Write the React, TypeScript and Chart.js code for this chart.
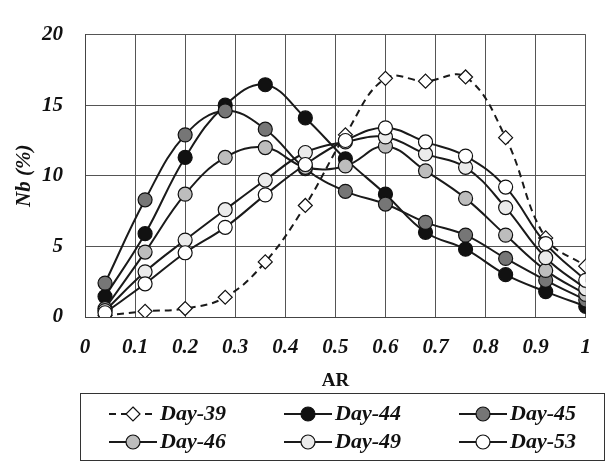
import React, { useEffect, useRef } from "react";
import { Chart, registerables } from "chart.js";

Chart.register(...registerables);

const arValues = [0.04, 0.12, 0.2, 0.28, 0.36, 0.44, 0.52, 0.6, 0.68, 0.76, 0.84, 0.92, 1.0];
const seriesNames = ["Day-39", "Day-44", "Day-45", "Day-46", "Day-49", "Day-53"];
const day39 = [0.1, 0.4, 0.6, 1.4, 3.9, 7.9, 12.9, 16.9, 16.7, 17.0, 12.7, 5.6, 3.6];
const day44 = [1.45, 5.9, 11.3, 15.0, 16.45, 14.1, 11.2, 8.7, 6.0, 4.8, 3.0, 1.8, 0.75];
const day45 = [2.4, 8.3, 12.9, 14.6, 13.3, 10.5, 8.9, 8.0, 6.7, 5.8, 4.15, 2.6, 1.2];
const day46 = [0.6, 4.6, 8.7, 11.3, 12.0, 10.6, 10.7, 12.1, 10.35, 8.4, 5.8, 3.3, 1.6];
const day49 = [0.45, 3.2, 5.45, 7.6, 9.7, 11.65, 12.4, 12.75, 11.55, 10.6, 7.75, 4.2, 2.0];
const day53 = [0.3, 2.35, 4.55, 6.35, 8.65, 10.8, 12.5, 13.4, 12.4, 11.4, 9.2, 5.2, 2.6];
const seriesValues = [day39, day44, day45, day46, day49, day53];
const fillColors = ["#ffffff", "#111111", "#767676", "#bdbdbd", "#ebebeb", "#ffffff"];
const xTickValues = [0, 0.1, 0.2, 0.3, 0.4, 0.5, 0.6, 0.7, 0.8, 0.9, 1];
const yTickValues = [0, 5, 10, 15, 20];

const SERIF = "'Liberation Serif', 'Times New Roman', serif";

const legendPlugin = {
  id: "boxLegend",
  afterDraw(chart: any) {
    const ctx = chart.ctx;
    const W = chart.width;
    const H = chart.height;
    const boxL = 80.5, boxR = W - 4.5, boxT = 393.5, boxB = H - 1.5;
    ctx.save();
    ctx.strokeStyle = "#333";
    ctx.lineWidth = 1;
    ctx.setLineDash([]);
    ctx.strokeRect(boxL, boxT, boxR - boxL, boxB - boxT);
    const colX = [109, 284, 459];
    const rowY = [414, 442];
    chart.data.datasets.forEach((ds: any, i: number) => {
      const x0 = colX[i % 3];
      const y = rowY[Math.floor(i / 3)];
      const symLen = 48;
      ctx.strokeStyle = "#1a1a1a";
      ctx.lineWidth = 2;
      ctx.setLineDash(ds.borderDash || []);
      ctx.beginPath();
      ctx.moveTo(x0, y);
      ctx.lineTo(x0 + symLen, y);
      ctx.stroke();
      ctx.setLineDash([]);
      const cx = x0 + symLen / 2;
      const r = 7;
      ctx.fillStyle = ds.pointBackgroundColor;
      ctx.strokeStyle = "#111";
      ctx.lineWidth = 1.2;
      ctx.beginPath();
      if (ds.pointStyle === "rectRot") {
        ctx.moveTo(cx, y - r);
        ctx.lineTo(cx + r, y);
        ctx.lineTo(cx, y + r);
        ctx.lineTo(cx - r, y);
        ctx.closePath();
      } else {
        ctx.arc(cx, y, r, 0, Math.PI * 2);
      }
      ctx.fill();
      ctx.stroke();
      ctx.fillStyle = "#111";
      ctx.font = "italic bold 22px " + SERIF;
      ctx.textBaseline = "middle";
      ctx.textAlign = "left";
      ctx.fillText(ds.label, x0 + symLen + 3, y);
    });
    ctx.restore();
  },
};

export default function App() {
  const canvasRef = useRef<HTMLCanvasElement | null>(null);

  useEffect(() => {
    document.body.style.margin = "0";
    const canvas = canvasRef.current;
    if (!canvas) return;
    const datasets = seriesNames.map((name, i) => ({
      label: name,
      data: arValues.map((x, j) => ({ x, y: seriesValues[i][j] })),
      borderColor: "#1a1a1a",
      borderWidth: 2,
      borderDash: i === 0 ? [7, 5] : [],
      pointStyle: i === 0 ? "rectRot" : "circle",
      pointRadius: 7,
      pointHoverRadius: 7,
      pointBorderWidth: 1.2,
      pointBorderColor: "#111",
      pointBackgroundColor: fillColors[i],
      backgroundColor: fillColors[i],
      tension: 0.4,
      fill: false,
      order: seriesNames.length - 1 - i,
    }));
    const chart = new Chart(canvas, {
      type: "line",
      data: { datasets },
      plugins: [legendPlugin],
      options: {
        responsive: false,
        animation: false,
        layout: { padding: { left: 0, right: 8, top: 15, bottom: 70 } },
        plugins: {
          legend: { display: false },
          tooltip: { enabled: false },
        },
        scales: {
          x: {
            type: "linear",
            min: 0,
            max: 1,
            afterBuildTicks: (scale: any) => {
              scale.ticks = xTickValues.map((v) => ({ value: v }));
            },
            afterFit: (scale: any) => {
              scale.height = 75;
            },
            ticks: {
              padding: 18,
              color: "#111",
              font: { family: SERIF, size: 21, style: "italic", weight: "bold" },
              callback: (v: any) => String(Math.round(Number(v) * 10) / 10),
              maxRotation: 0,
              autoSkip: false,
            },
            grid: { color: "#555555", lineWidth: 1, drawTicks: false },
            border: { color: "#444", width: 1 },
            title: {
              display: true,
              text: "AR",
              color: "#111",
              padding: { top: 0, bottom: 0 },
              font: { family: SERIF, size: 19, weight: "bold" },
            },
          },
          y: {
            min: 0,
            max: 20,
            afterBuildTicks: (scale: any) => {
              scale.ticks = yTickValues.map((v) => ({ value: v }));
            },
            afterFit: (scale: any) => {
              scale.width = 85;
            },
            ticks: {
              padding: 22,
              color: "#111",
              font: { family: SERIF, size: 21, style: "italic", weight: "bold" },
            },
            grid: { color: "#555555", lineWidth: 1, drawTicks: false },
            border: { color: "#444", width: 1 },
            title: {
              display: true,
              text: "Nb (%)",
              color: "#111",
              padding: { top: 12, bottom: 0 },
              font: { family: SERIF, size: 21, style: "italic", weight: "bold" },
            },
          },
        },
      },
    } as any);
    return () => chart.destroy();
  }, []);

  return (
    <div style={{ width: 609, height: 462 }}>
      <canvas ref={canvasRef} width={609} height={462} style={{ width: 609, height: 462, display: "block" }} />
    </div>
  );
}
